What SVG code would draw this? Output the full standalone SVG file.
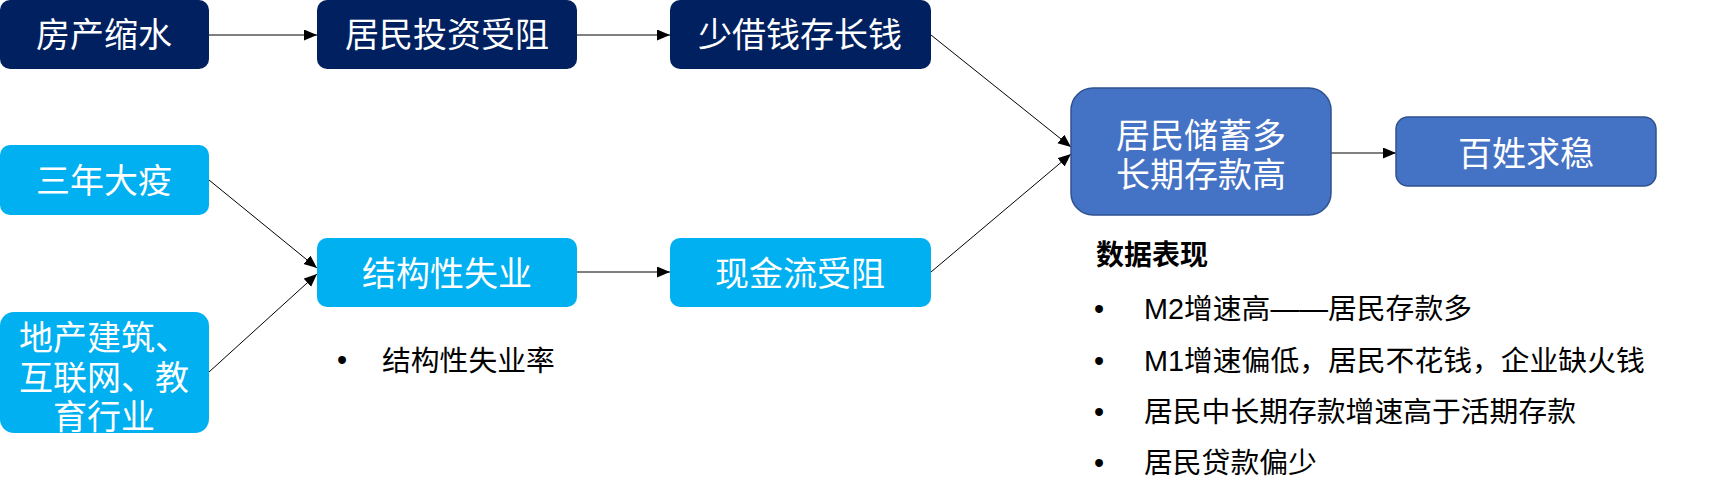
<svg xmlns="http://www.w3.org/2000/svg" width="1712" height="499" viewBox="0 0 1712 499">
<defs>
<marker id="arr" markerUnits="userSpaceOnUse" markerWidth="14" markerHeight="12" refX="13" refY="5.5" orient="auto">
<path d="M0,0 L13,5.5 L0,11 z" fill="#000"/>
</marker>
<style>
.dk{fill:#002060}
.lt{fill:#00B0F0}
.md{fill:#4472C4;stroke:#2F528F;stroke-width:1.5}
.bt{font-family:'Liberation Sans','Noto Sans CJK SC',sans-serif;font-size:34px;fill:#fff;text-anchor:middle;dominant-baseline:central}
.tx{font-family:'Liberation Sans','Noto Sans CJK SC',sans-serif;font-size:28.8px;fill:#000;dominant-baseline:central}
.hd{font-weight:bold;font-size:28px}
.ln{stroke:#000;stroke-width:1;fill:none;marker-end:url(#arr)}
</style>
</defs>
<rect width="1712" height="499" fill="#fff"/>
<g id="connectors">
<line class="ln" x1="209" y1="35" x2="317" y2="35"/>
<line class="ln" x1="577" y1="35" x2="670" y2="35"/>
<line class="ln" x1="931" y1="35" x2="1071" y2="147"/>
<line class="ln" x1="209" y1="180" x2="317" y2="268"/>
<line class="ln" x1="209" y1="372" x2="317" y2="274"/>
<line class="ln" x1="577" y1="272" x2="670" y2="272"/>
<line class="ln" x1="931" y1="272" x2="1071" y2="154"/>
<line class="ln" x1="1331" y1="153" x2="1396" y2="153"/>
</g>
<g id="n1"><rect class="dk" x="0" y="0" width="209" height="69" rx="10"/><text class="bt" x="104" y="35">房产缩水</text></g>
<g id="n2"><rect class="dk" x="317" y="0" width="260" height="69" rx="10"/><text class="bt" x="447" y="35">居民投资受阻</text></g>
<g id="n3"><rect class="dk" x="670" y="0" width="261" height="69" rx="10"/><text class="bt" x="800" y="35">少借钱存长钱</text></g>
<g id="n4"><rect class="lt" x="0" y="145" width="209" height="70" rx="10"/><text class="bt" x="104" y="181">三年大疫</text></g>
<g id="n5"><rect class="lt" x="317" y="238" width="260" height="69" rx="10"/><text class="bt" x="447" y="274">结构性失业</text></g>
<g id="n6"><rect class="lt" x="670" y="238" width="261" height="69" rx="10"/><text class="bt" x="800" y="274">现金流受阻</text></g>
<g id="n7"><rect class="lt" x="0" y="312" width="209" height="121" rx="14"/>
<text class="bt" x="104" y="338">地产建筑、</text>
<text class="bt" x="104" y="378">互联网、教</text>
<text class="bt" x="104" y="417">育行业</text></g>
<g id="n8"><rect class="md" x="1071" y="88" width="260" height="127" rx="22"/>
<text class="bt" x="1201" y="136">居民储蓄多</text>
<text class="bt" x="1201" y="175">长期存款高</text></g>
<g id="n9"><rect class="md" x="1396" y="117" width="260" height="69" rx="12"/><text class="bt" x="1526" y="154">百姓求稳</text></g>
<g id="note1">
<text class="tx" x="337" y="360">•</text>
<text class="tx" x="382" y="361">结构性失业率</text>
</g>
<g id="note2">
<text class="tx hd" x="1096" y="255">数据表现</text>
<text class="tx" x="1094" y="309">•</text><text class="tx" x="1144" y="309">M2增速高——居民存款多</text>
<text class="tx" x="1094" y="361">•</text><text class="tx" x="1144" y="361">M1增速偏低，居民不花钱，企业缺火钱</text>
<text class="tx" x="1094" y="412">•</text><text class="tx" x="1144" y="412">居民中长期存款增速高于活期存款</text>
<text class="tx" x="1094" y="463">•</text><text class="tx" x="1144" y="463">居民贷款偏少</text>
</g>
</svg>
